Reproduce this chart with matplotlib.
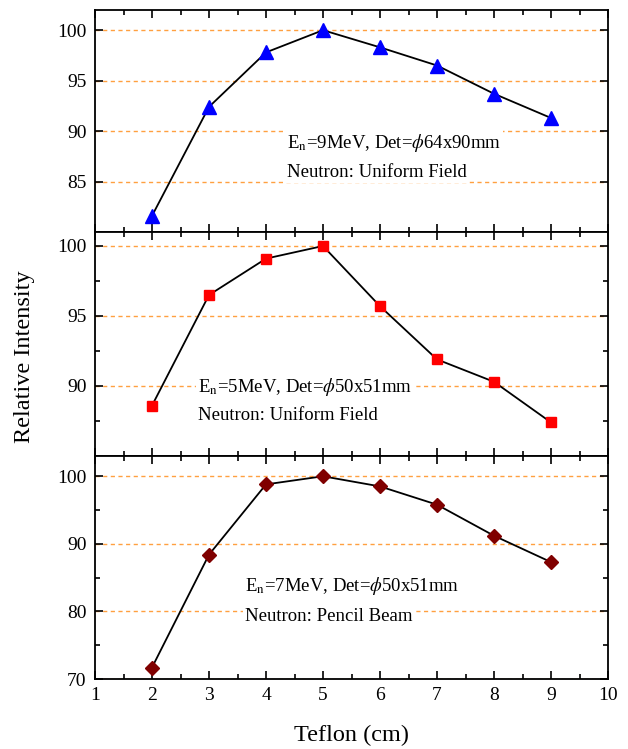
import matplotlib
matplotlib.use("Agg")
import matplotlib.pyplot as plt
from matplotlib.ticker import FixedLocator, MultipleLocator

plt.rcParams["font.family"] = ["Liberation Serif", "DejaVu Serif"]
plt.rcParams["mathtext.fontset"] = "stix"

# Teflon thickness (cm)
teflon = [2, 3, 4, 5, 6, 7, 8, 9]

# Relative intensity for each configuration
intensity_9mev = [81.6, 92.4, 97.8, 100.0, 98.3, 96.5, 93.7, 91.3]
intensity_5mev = [88.6, 96.5, 99.1, 100.0, 95.7, 91.9, 90.3, 87.4]
intensity_7mev = [71.7, 88.4, 98.8, 100.0, 98.5, 95.8, 91.2, 87.3]

labels_line1 = [r"E$_{\rm n}$=9MeV, Det=$\phi$64x90mm",
                r"E$_{\rm n}$=5MeV, Det=$\phi$50x51mm",
                r"E$_{\rm n}$=7MeV, Det=$\phi$50x51mm"]
labels_line2 = ["Neutron: Uniform Field",
                "Neutron: Uniform Field",
                "Neutron: Pencil Beam"]

fig = plt.figure(figsize=(6.28, 7.49), dpi=100)

left, width = 95 / 628, (608 - 95) / 628
H = 749
panels = [(10, 232), (232, 456), (456, 679)]
axes = []
for top, bot in panels:
    ax = fig.add_axes([left, 1 - bot / H, width, (bot - top) / H])
    axes.append(ax)

series = [intensity_9mev, intensity_5mev, intensity_7mev]
markers = [dict(marker="^", ms=10, mfc="#0000FF", mec="#0000FF"),
           dict(marker="s", ms=7.5, mfc="#FF0000", mec="#FF0000"),
           dict(marker="D", ms=6.8, mfc="#800000", mec="#800000")]
ylims = [(80, 102), (85, 101), (70, 103)]
majors = [[85, 90, 95, 100], [90, 95, 100], [70, 80, 90, 100]]
minors = [[], [87.5, 92.5, 97.5], [75, 85, 95]]
text_pos = [(4.37, 88.85, 85.9), (2.81, 89.95, 87.9), (3.63, 83.7, 79.3)]

for i, ax in enumerate(axes):
    ax.plot(teflon, series[i], color="black", lw=1.3, zorder=4, **markers[i])
    ax.set_xlim(1, 10)
    ax.set_ylim(*ylims[i])
    ax.xaxis.set_major_locator(MultipleLocator(1))
    ax.xaxis.set_minor_locator(MultipleLocator(0.5))
    ax.yaxis.set_major_locator(FixedLocator(majors[i]))
    ax.yaxis.set_minor_locator(FixedLocator(minors[i]))
    ax.tick_params(which="both", direction="in", top=True, right=True,
                   labelsize=14, width=1.2, pad=6)
    ax.tick_params(which="major", length=6)
    ax.tick_params(which="minor", length=3.5)
    for sp in ax.spines.values():
        sp.set_linewidth(1.3)
    ax.yaxis.grid(True, which="major", color="#FFA040", ls=(0, (3, 2.5)), lw=1.0)
    ax.set_axisbelow(True)
    if i < 2:
        ax.tick_params(labelbottom=False)
    tx, ty1, ty2 = text_pos[i]
    box = dict(facecolor="white", edgecolor="none", pad=1.5)
    ax.text(tx, ty1, labels_line1[i], fontsize=13.5, va="center", ha="left",
            bbox=box, zorder=3)
    ax.text(tx, ty2, labels_line2[i], fontsize=13.5, va="center", ha="left",
            bbox=box, zorder=3)

axes[2].set_xlabel("Teflon (cm)", fontsize=17.5, labelpad=15)
fig.text(25 / 628, 1 - 357 / H, "Relative Intensity", rotation=90,
         fontsize=17.5, va="center", ha="center")

fig.savefig("out.png", dpi=100)
